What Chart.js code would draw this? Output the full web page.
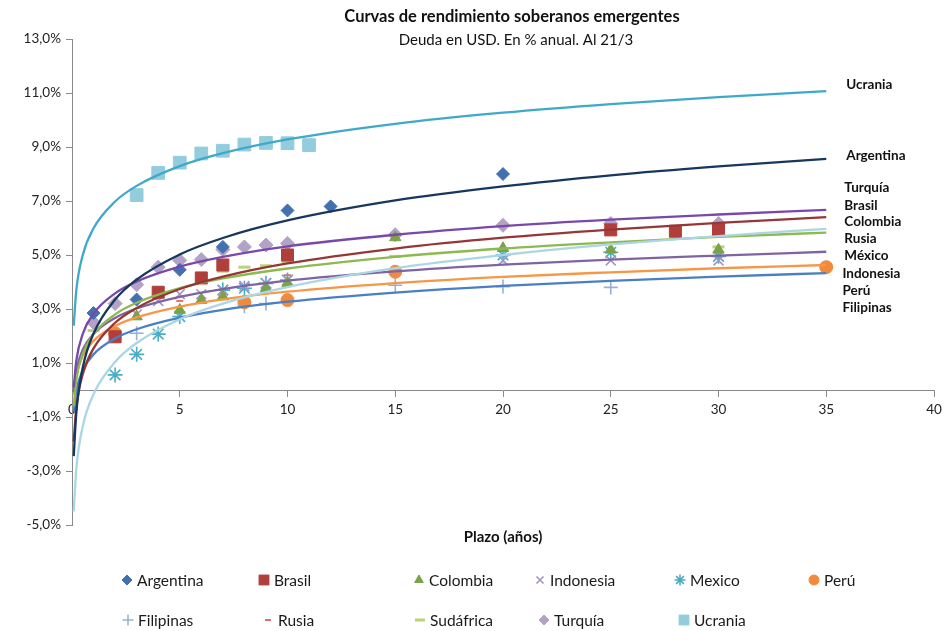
<!DOCTYPE html>
<html>
<head>
<meta charset="utf-8">
<script src="https://cdn.jsdelivr.net/npm/chart.js@4.4.1/dist/chart.umd.min.js"></script>
<style>
  html, body { margin: 0; padding: 0; background: #fff; }
  #wrap { width: 944px; height: 631px; }
</style>
</head>
<body>
<div id="wrap"><canvas id="chart" width="944" height="631"></canvas></div>
<script>
// Bonos por país: plazo (años) y rendimiento (% anual)
const argentinaPlazo = [1, 3, 5, 7, 10, 12, 20];
const argentinaTasa = [2.85, 3.35, 4.45, 5.3, 6.65, 6.8, 8.0];
const brasilPlazo = [2, 4, 6, 7, 10, 25, 28, 30];
const brasilTasa = [1.97, 3.62, 4.15, 4.63, 5.0, 5.93, 5.88, 5.93];
const colombiaPlazo = [3, 5, 6, 7, 9, 10, 15, 20, 25, 30];
const colombiaTasa = [2.72, 2.96, 3.33, 3.46, 3.77, 3.96, 5.65, 5.25, 5.19, 5.19];
const indonesiaPlazo = [3, 4, 5, 6, 7, 8, 9, 10, 20, 25, 30];
const indonesiaTasa = [2.8, 3.3, 3.55, 3.55, 3.7, 3.85, 3.95, 4.07, 4.8, 4.8, 4.8];
const mexicoPlazo = [2, 3, 4, 5, 7, 8, 9, 10, 20, 25, 30];
const mexicoTasa = [0.56, 1.32, 2.07, 2.72, 3.7, 3.77, 3.95, 4.07, 5.0, 5.1, 4.95];
const peruPlazo = [2, 8, 10, 15, 35];
const peruTasa = [2.1, 3.25, 3.33, 4.38, 4.55];
const filipinasPlazo = [3, 8, 9, 15, 20, 25];
const filipinasTasa = [2.1, 3.1, 3.2, 3.88, 3.83, 3.8];
const rusiaPlazo = [5, 7, 10, 30];
const rusiaTasa = [3.3, 3.75, 4.25, 5.1];
const sudafricaPlazo = [1, 7, 8, 9, 10, 15, 30];
const sudafricaTasa = [2.2, 4.4, 4.55, 4.6, 4.75, 4.95, 5.3];
const turquiaPlazo = [1, 2, 3, 4, 5, 6, 7, 8, 9, 10, 15, 20, 25, 30];
const turquiaTasa = [2.5, 3.2, 3.9, 4.55, 4.8, 4.83, 5.2, 5.3, 5.37, 5.43, 5.75, 6.1, 6.17, 6.17];
const ucraniaPlazo = [3, 4, 5, 6, 7, 8, 9, 10, 11];
const ucraniaTasa = [7.22, 8.04, 8.42, 8.76, 8.86, 9.09, 9.15, 9.14, 9.07];

// Curvas de tendencia
const curvaPlazo = [0.08, 0.2, 0.5, 1, 2, 3, 5, 7, 10, 15, 20, 25, 30, 35];
const ucraniaCurva = [2.38, 3.69, 5.0, 5.99, 6.98, 7.56, 8.29, 8.77, 9.28, 9.86, 10.27, 10.59, 10.85, 11.07];
const argentinaCurva = [-2.45, -0.84, 0.83, 2.09, 3.35, 4.09, 5.02, 5.63, 6.28, 7.02, 7.54, 7.95, 8.28, 8.56];
const turquiaCurva = [0.1, 1.09, 2.08, 2.83, 3.58, 4.02, 4.57, 4.93, 5.32, 5.75, 6.07, 6.31, 6.5, 6.67];
const brasilCurva = [-1.91, -0.66, 0.59, 1.54, 2.49, 3.04, 3.74, 4.2, 4.69, 5.24, 5.64, 5.94, 6.19, 6.4];
const mexicoCurva = [-4.5, -2.92, -1.34, -0.15, 1.04, 1.74, 2.62, 3.2, 3.81, 4.51, 5.0, 5.39, 5.7, 5.97];
const colombiaCurva = [-0.6, 0.37, 1.34, 2.07, 2.8, 3.23, 3.77, 4.13, 4.5, 4.93, 5.24, 5.47, 5.67, 5.83];
const indonesiaCurva = [-0.08, 0.71, 1.49, 2.08, 2.67, 3.02, 3.45, 3.74, 4.05, 4.39, 4.64, 4.83, 4.98, 5.12];
const peruCurva = [-0.18, 0.55, 1.27, 1.82, 2.37, 2.69, 3.09, 3.36, 3.64, 3.96, 4.19, 4.36, 4.51, 4.63];
const filipinasCurva = [-0.82, -0.04, 0.73, 1.32, 1.91, 2.25, 2.68, 2.97, 3.27, 3.61, 3.86, 4.04, 4.2, 4.33];

const yTicks = [-5, -3, -1, 1, 3, 5, 7, 9, 11, 13];

// Etiquetas a la derecha: [texto, plazo, tasa]
const etiquetas = [
  ["Ucrania", 35.93, 11.3],
  ["Argentina", 35.93, 8.67],
  ["Turquía", 35.84, 7.48],
  ["Brasil", 35.84, 6.81],
  ["Colombia", 35.84, 6.22],
  ["Rusia", 35.84, 5.59],
  ["México", 35.84, 4.96],
  ["Indonesia", 35.75, 4.3],
  ["Perú", 35.75, 3.67],
  ["Filipinas", 35.75, 3.04],
];

const FONT = "Lato, 'Open Sans', sans-serif";

function toPoints(xs, ys) {
  return xs.map((x, i) => ({ x: x, y: ys[i] }));
}

function puntos(label, xs, ys, style, color, radius, lineWidth) {
  return {
    type: "scatter",
    label: label,
    data: toPoints(xs, ys),
    pointStyle: style,
    pointRadius: radius,
    pointBackgroundColor: color,
    pointBorderColor: color,
    pointBorderWidth: lineWidth || 1,
    showLine: false,
    order: 2,
  };
}

function curva(label, ys, color) {
  return {
    type: "line",
    label: label,
    data: toPoints(curvaPlazo, ys),
    borderColor: color,
    borderWidth: 2.3,
    pointRadius: 0,
    fill: false,
    cubicInterpolationMode: "monotone",
    order: 1,
  };
}

const datasets = [
  puntos("Argentina", argentinaPlazo, argentinaTasa, "rectRot", "#4470B0", 6.5),
  puntos("Brasil", brasilPlazo, brasilTasa, "rect", "#B03F3C", 8.5),
  puntos("Colombia", colombiaPlazo, colombiaTasa, "triangle", "#79A346", 6.5),
  puntos("Indonesia", indonesiaPlazo, indonesiaTasa, "crossRot", "#A493C6", 7, 1.6),
  puntos("Mexico", mexicoPlazo, mexicoTasa, "star", "#4BACC6", 7.5, 1.6),
  puntos("Perú", peruPlazo, peruTasa, "circle", "#F08A3C", 6.5),
  puntos("Filipinas", filipinasPlazo, filipinasTasa, "cross", "#95B3D7", 7, 1.6),
  puntos("Rusia", rusiaPlazo, rusiaTasa, "line", "#E46C6A", 3.5, 2),
  puntos("Sudáfrica", sudafricaPlazo, sudafricaTasa, "line", "#B9D27F", 6, 3),
  puntos("Turquía", turquiaPlazo, turquiaTasa, "rectRot", "#B3A2C7", 7),
  puntos("Ucrania", ucraniaPlazo, ucraniaTasa, "rect", "#93CDDD", 9),
  curva("t-Ucrania", ucraniaCurva, "#3FA9C9"),
  curva("t-Argentina", argentinaCurva, "#17375E"),
  curva("t-Turquia", turquiaCurva, "#7A48A8"),
  curva("t-Brasil", brasilCurva, "#953735"),
  curva("t-Mexico", mexicoCurva, "#AAD7E3"),
  curva("t-Colombia", colombiaCurva, "#8DB94E"),
  curva("t-Indonesia", indonesiaCurva, "#8064A2"),
  curva("t-Peru", peruCurva, "#F79646"),
  curva("t-Filipinas", filipinasCurva, "#4A7FC6"),
];

// Leyenda en dos filas con columnas fijas
const leyendaFilas = [
  ["Argentina", "Brasil", "Colombia", "Indonesia", "Mexico", "Perú"],
  ["Filipinas", "Rusia", "Sudáfrica", "Turquía", "Ucrania"],
];
const leyendaCols = [
  [127, 264, 419, 540, 680, 814],
  [128, 268, 420, 544, 684],
];
const leyendaY = [580, 620];
const leyendaRadio = { Argentina: 5, Brasil: 7, Colombia: 5, Indonesia: 5, Mexico: 5.5, "Perú": 5, Filipinas: 5.5, Rusia: 3, "Sudáfrica": 5, "Turquía": 5, Ucrania: 7 };

const textos = {
  id: "textos",
  afterDraw(chart) {
    const ctx = chart.ctx;
    const xs = chart.scales.x;
    const ys = chart.scales.y;
    ctx.save();
    ctx.fillStyle = "#111";
    ctx.textAlign = "center";
    ctx.textBaseline = "middle";
    ctx.font = "bold 16.5px " + FONT;
    ctx.fillText("Curvas de rendimiento soberanos emergentes", 512, 17);
    ctx.font = "15px " + FONT;
    ctx.fillText("Deuda en USD. En % anual. Al 21/3", 516, 40);
    ctx.font = "bold 15px " + FONT;
    ctx.fillText("Plazo (años)", (chart.chartArea.left + chart.chartArea.right) / 2, 537);

    ctx.textAlign = "left";
    ctx.font = "bold 13.5px " + FONT;
    etiquetas.forEach(([t, px, py]) => {
      ctx.fillText(t, xs.getPixelForValue(px), ys.getPixelForValue(py));
    });

    // leyenda
    ctx.font = "15.5px " + FONT;
    leyendaFilas.forEach((fila, r) => {
      fila.forEach((name, c) => {
        const ds = chart.data.datasets.find((d) => d.label === name);
        const mx = leyendaCols[r][c];
        const my = leyendaY[r];
        ctx.fillStyle = ds.pointBackgroundColor;
        ctx.strokeStyle = ds.pointBorderColor;
        ctx.lineWidth = ds.pointBorderWidth;
        Chart.helpers.drawPoint(ctx, { pointStyle: ds.pointStyle, radius: leyendaRadio[name], rotation: 0, borderWidth: ds.pointBorderWidth }, mx, my);
        ctx.fillStyle = "#1a1a1a";
        ctx.fillText(name, mx + 10, my + 1);
      });
    });
    ctx.restore();
  },
};

new Chart(document.getElementById("chart"), {
  type: "scatter",
  data: { datasets: datasets },
  options: {
    responsive: false,
    animation: false,
    layout: { padding: { left: 0, right: 0, top: 39, bottom: 106 } },
    plugins: {
      legend: { display: false },
      title: { display: false },
      tooltip: { enabled: false },
    },
    scales: {
      x: {
        type: "linear",
        position: { y: 0 },
        min: 0,
        max: 40,
        afterFit: (s) => { s.paddingRight = 0; },
        ticks: {
          stepSize: 5,
          padding: 6,
          color: "#222",
          font: { family: FONT, size: 13.5 },
        },
        grid: { drawOnChartArea: false, tickLength: 6, color: "#8a8a8a" },
        border: { color: "#8a8a8a", width: 1 },
      },
      y: {
        type: "linear",
        min: -5,
        max: 13,
        afterFit: (s) => { s.width = 72; },
        afterBuildTicks: (s) => { s.ticks = yTicks.map((v) => ({ value: v })); },
        ticks: {
          stepSize: 2,
          padding: 5,
          color: "#222",
          font: { family: FONT, size: 13.5 },
          callback: (v) => v.toFixed(1).replace(".", ",") + "%",
        },
        grid: { drawOnChartArea: false, tickLength: 6, color: "#8a8a8a" },
        border: { color: "#8a8a8a", width: 1 },
      },
    },
  },
  plugins: [textos],
});
</script>
</body>
</html>
